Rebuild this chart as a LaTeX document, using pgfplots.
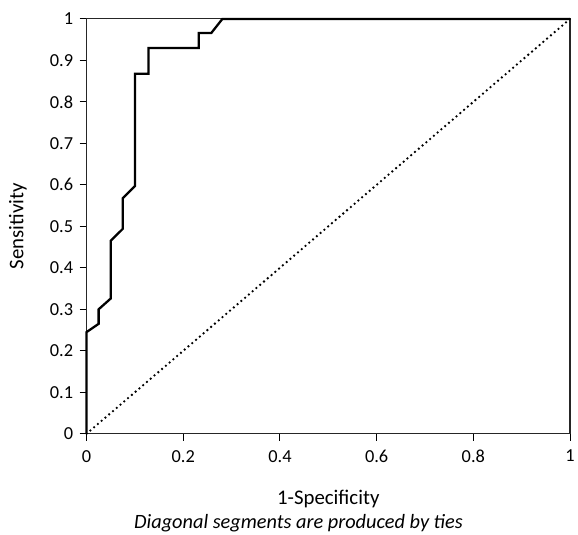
\documentclass[border=0pt]{standalone}
\usepackage{fontspec}
\setmainfont{Carlito}
\usepackage{pgfplots}
\pgfplotsset{compat=1.18}

\begin{document}
\begin{tikzpicture}
\begin{axis}[
    scale only axis,
    width=486bp,
    height=417bp,
    at={(0,0)},
    anchor=south west,
    xmin=0, xmax=1,
    ymin=0, ymax=1,
    xtick={0,0.2,0.4,0.6,0.8,1},
    ytick={0,0.1,...,1},
    xticklabels={0,0.2,0.4,0.6,0.8,1},
    yticklabels={0,0.1,0.2,0.3,0.4,0.5,0.6,0.7,0.8,0.9,1},
    tick align=outside,
    major tick length=7bp,
    tick style={black, line width=1bp},
    xtick pos=bottom,
    ytick pos=left,
    axis line style={line width=1.2bp, black!85},
    tick label style={font=\fontsize{18.5}{21}\selectfont},
    xticklabel style={yshift=-6bp},
    yticklabel style={xshift=-3bp},
    label style={font=\fontsize{21}{25}\selectfont},
    xlabel={1-Specificity},
    ylabel={Sensitivity},
    xlabel style={at={(axis description cs:0.5,-0.157)}, anchor=center},
    ylabel style={at={(axis description cs:-0.142,0.5)}, anchor=center},
    clip=false,
]
\addplot[black, line width=2.3bp, line join=miter] coordinates {
(0,0) (0,0.245) (0.025,0.265) (0.025,0.300) (0.05,0.326) (0.05,0.465)
(0.075,0.494) (0.075,0.568) (0.1,0.597) (0.1,0.868) (0.128,0.868)
(0.128,0.930) (0.232,0.930) (0.232,0.966) (0.258,0.966) (0.281,1) (1,1)
};
\addplot[black, line width=2.6bp, dash pattern=on 0pt off 5bp, line cap=round] coordinates {
(0,0) (1,1)
};
\end{axis}
\node[font=\fontsize{20.5}{24}\selectfont\itshape] at (213bp,-89.5bp) {Diagonal segments are produced by ties};
\path[use as bounding box] (-87bp,-98bp) rectangle (491bp,436bp);
\end{tikzpicture}
\end{document}
